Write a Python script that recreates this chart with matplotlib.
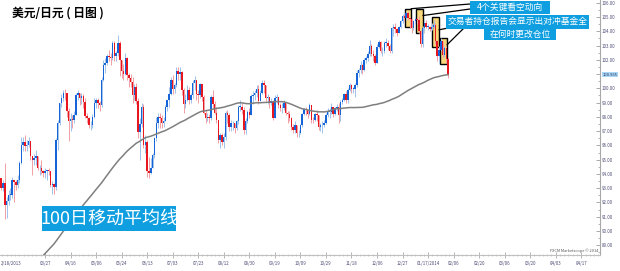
import numpy as np
import pandas as pd
import matplotlib
matplotlib.use("Agg")
import matplotlib.pyplot as plt
from matplotlib.patches import Rectangle
from matplotlib.ticker import FixedLocator, MultipleLocator

plt.rcParams['font.family'] = ['Noto Sans CJK SC', 'DejaVu Sans']

W, H = 620, 271

# daily closes before the first visible bar (Oct 2012 - Feb 20 2013), only used for the 100-day average
pre_close = [78.5, 78.5, 78.7,
             78.3, 78.2, 78.0, 78.4, 78.4, 78.8, 78.8, 79.2, 79.3, 79.3,
             79.9, 79.8, 79.9, 80.2, 79.6, 79.5, 79.8, 79.8, 80.1, 80.4,
             80.2, 80.2, 80.3, 80.0, 79.5, 79.4, 79.4, 79.8, 81.2, 81.3,
             81.3, 81.6, 82.3, 82.5, 82.4, 81.9, 81.9, 82.2, 82.1, 82.4,
             82.1, 81.9, 82.4, 82.4, 82.5, 82.4, 82.4, 82.5, 83.6, 83.9,
             84.3, 84.0, 84.4, 84.3, 84.2, 84.6, 85.5, 85.8, 86.0,
             86.7, 87.1, 87.2, 88.2, 87.8, 87.1, 87.7, 88.8, 89.2,
             89.2, 88.6, 88.4, 90.1, 90.1, 89.6, 88.6, 88.6, 90.2, 90.8,
             90.8, 90.8, 91.1, 91.7, 92.6, 92.4, 93.6, 93.6, 93.6, 92.7,
             93.6, 93.5, 93.2, 92.8, 93.5, 93.6, 93.8, 93.7]

# USD/JPY daily bars, Feb 21 2013 - Feb 3 2014
close = [
    93.05, 93.40, 91.80, 92.10, 92.55, 92.55,
    93.55, 93.45, 93.25, 93.55, 94.75, 96.00, 96.25, 95.95, 96.05, 96.30, 95.25, 94.95, 95.15, 95.25, 94.40, 94.45, 94.20, 94.05, 94.20, 94.25, 94.20,
    93.25, 93.30, 93.10, 96.35, 97.55, 98.95, 99.35, 99.70, 99.65, 98.40, 97.70, 97.85, 97.80, 98.15, 99.55, 99.65, 99.30, 99.45, 99.05, 98.05, 97.95, 97.40,
    97.45, 98.00, 98.95, 99.15, 98.95, 98.80, 100.60, 101.60, 101.80, 102.25, 102.20, 102.15, 103.20, 102.30, 102.50, 103.20, 102.00, 101.20, 101.00, 102.15, 100.95, 100.70, 100.45,
    99.50, 100.10, 99.10, 96.95, 97.50, 98.70, 96.05, 96.25, 94.20, 94.05, 94.45, 95.30, 96.50, 97.60, 98.00, 97.90, 97.60, 97.70, 98.70, 99.15,
    99.60, 100.60, 99.95, 100.20, 101.20, 101.00, 101.15, 99.90, 98.90, 99.20, 99.90, 99.20, 99.50, 100.40, 100.60, 99.60, 99.50, 100.30, 99.40, 98.30, 97.90, 98.00, 97.90,
    99.40, 98.90, 98.30, 97.80, 96.40, 96.70, 96.25, 96.60, 98.25, 98.10, 97.30, 97.55, 97.60, 97.25, 97.70, 98.70, 98.70, 98.50, 97.05, 97.70, 98.35, 98.15,
    99.45, 99.50, 99.70, 99.95, 99.10, 99.65, 100.40, 100.20, 99.30, 99.40, 99.00, 99.10, 97.90, 99.35, 99.40, 98.80, 98.60, 98.60, 98.95, 98.25, 98.20,
    97.95, 97.30, 97.10, 97.45, 96.85, 96.90, 97.40, 98.20, 98.55, 98.45, 98.20, 98.80, 97.80, 97.75, 98.20, 98.10, 97.30, 97.40, 97.40, 97.60, 98.15, 98.35, 98.35,
    98.70, 98.20, 98.60, 98.70, 98.10, 99.05, 99.20, 99.60, 99.20, 99.90, 100.20, 99.95, 99.95, 100.20, 101.10, 101.30, 101.65, 101.25, 102.00, 102.10, 102.40,
    103.00, 102.40, 102.30, 101.80, 102.90, 103.25, 102.60, 102.60, 103.20, 103.20, 103.00, 102.60, 104.20, 104.30, 104.15, 103.90, 104.30, 104.70, 105.10, 104.90, 105.30,
    104.90, 104.85, 104.20, 104.70, 104.85, 104.80, 104.05, 103.10, 104.20, 104.60, 104.30, 104.30, 104.15, 104.30, 104.45, 103.30, 102.30, 102.70, 103.30, 102.35, 102.85, 102.05,
    100.965]

high = [
    93.70, 93.60, 94.77, 92.40, 92.90, 93.00,
    93.80, 93.60, 93.60, 93.90, 94.90, 96.60, 96.60, 96.70, 96.40, 96.60, 96.30, 95.00, 95.40, 95.70, 95.20, 94.60, 95.00, 94.30, 94.40, 94.30, 94.40,
    94.20, 93.50, 93.40, 96.50, 97.80, 99.00, 99.60, 99.90, 99.95, 99.70, 98.60, 98.30, 98.10, 98.40, 99.70, 99.90, 99.60, 99.70, 99.60, 99.30, 98.30, 98.00,
    97.70, 98.20, 99.30, 99.30, 99.30, 99.10, 100.80, 101.98, 102.10, 102.40, 102.70, 102.50, 103.30, 103.30, 102.60, 103.74, 103.30, 102.00, 101.70, 102.50, 102.20, 101.10, 101.00,
    100.80, 100.30, 100.40, 99.30, 97.90, 99.00, 98.90, 96.70, 96.40, 95.20, 95.10, 95.50, 96.60, 98.00, 98.30, 98.30, 98.10, 98.00, 98.80, 99.20,
    100.10, 100.80, 100.90, 100.40, 101.50, 101.50, 101.50, 101.20, 100.00, 99.60, 100.20, 100.10, 99.70, 100.60, 100.87, 100.60, 99.90, 100.40, 100.30, 99.50, 98.50, 98.30, 98.20,
    99.50, 99.90, 99.10, 98.70, 97.80, 96.90, 96.90, 96.90, 98.40, 98.50, 98.30, 97.80, 97.70, 97.60, 97.80, 98.80, 99.20, 99.00, 98.70, 97.90, 98.50, 98.60,
    99.60, 99.80, 99.90, 100.20, 100.20, 99.90, 100.60, 100.60, 100.20, 99.60, 99.30, 99.30, 99.20, 99.50, 99.60, 99.30, 99.00, 99.00, 99.20, 99.00, 98.40,
    98.40, 98.00, 97.50, 97.70, 97.30, 97.10, 97.50, 98.30, 98.60, 98.70, 98.50, 99.00, 98.80, 98.00, 98.30, 98.50, 98.10, 97.60, 97.70, 97.80, 98.30, 98.60, 98.60,
    99.00, 98.70, 98.70, 98.90, 99.00, 99.20, 99.30, 99.70, 99.80, 100.00, 100.40, 100.30, 100.10, 100.40, 101.30, 101.40, 101.90, 101.70, 102.10, 102.30, 102.60,
    103.40, 103.10, 102.70, 102.40, 103.10, 103.40, 103.30, 102.90, 103.30, 103.50, 103.40, 103.10, 104.30, 104.50, 104.60, 104.20, 104.40, 104.80, 105.20, 105.20, 105.40,
    105.44, 105.00, 104.90, 104.80, 105.10, 105.00, 105.10, 104.10, 104.40, 104.80, 104.80, 104.50, 104.40, 104.60, 104.80, 104.60, 103.40, 103.00, 103.50, 103.30, 103.00, 103.00,
    102.20]

low = [
    92.90, 92.80, 90.85, 90.90, 91.80, 92.20,
    92.30, 92.00, 92.90, 93.00, 93.40, 94.70, 95.60, 95.60, 95.60, 95.90, 95.00, 93.90, 94.60, 94.60, 94.30, 93.90, 94.00, 93.80, 93.70, 93.60, 93.90,
    93.10, 92.60, 92.60, 92.90, 95.70, 97.40, 98.70, 99.10, 99.20, 98.00, 96.30, 97.00, 97.20, 97.60, 98.10, 99.20, 98.80, 98.90, 98.60, 97.90, 97.60, 97.20,
    97.10, 97.20, 97.90, 98.60, 98.60, 98.40, 98.70, 100.50, 101.10, 101.60, 101.90, 101.60, 102.00, 101.90, 101.90, 102.30, 100.85, 100.70, 100.60, 100.90, 100.60, 100.10, 100.10,
    99.00, 99.20, 98.90, 96.50, 94.98, 97.30, 95.80, 95.50, 93.80, 93.75, 94.00, 94.40, 95.10, 96.30, 97.20, 97.20, 97.20, 97.30, 97.70, 98.40,
    98.70, 99.50, 99.60, 99.70, 100.10, 100.60, 100.60, 99.50, 98.30, 98.60, 99.10, 98.90, 99.00, 99.30, 99.90, 99.20, 99.00, 99.30, 99.10, 98.20, 97.60, 97.70, 97.60,
    97.80, 98.60, 98.20, 97.60, 96.20, 95.80, 96.00, 95.80, 96.40, 97.60, 97.00, 97.00, 97.10, 96.90, 97.10, 97.50, 98.40, 98.20, 96.80, 96.80, 97.60, 97.90,
    98.20, 98.90, 99.20, 99.40, 98.90, 99.10, 99.60, 99.70, 99.10, 98.90, 98.60, 98.80, 97.80, 97.90, 99.00, 98.60, 98.40, 98.30, 98.50, 98.10, 97.60,
    97.70, 97.10, 96.90, 96.90, 96.60, 96.60, 96.80, 97.30, 98.10, 98.10, 97.90, 98.10, 97.60, 97.60, 97.70, 97.70, 97.10, 97.00, 96.90, 97.30, 97.50, 98.00, 97.90,
    98.20, 98.00, 98.10, 98.40, 97.60, 97.70, 98.90, 99.10, 99.00, 99.00, 99.80, 99.70, 99.70, 99.40, 100.10, 100.80, 101.10, 101.00, 101.20, 101.80, 101.90,
    102.30, 102.30, 101.90, 101.60, 101.80, 102.80, 102.50, 102.30, 102.50, 102.90, 102.70, 102.50, 102.50, 103.70, 103.90, 103.70, 103.90, 104.20, 104.60, 104.70, 104.80,
    104.80, 104.20, 103.90, 104.10, 104.50, 104.50, 103.90, 102.90, 102.90, 104.10, 104.20, 104.10, 104.00, 104.10, 104.20, 103.10, 101.90, 101.80, 102.60, 102.10, 102.20, 101.80,
    100.75]

first_label = "2/18/2013"
tick_labels = ["03/27", "04/16", "05/06", "05/24", "06/13", "07/03", "07/23", "08/12",
               "08/30", "09/19", "10/09", "10/29", "11/18", "12/06", "12/27",
               "01/17/2014", "02/06", "02/20", "03/06", "03/20", "04/03", "04/17"]

# highlighted bar spans (first bar, last bar, low, high)
highlights = [(221.4, 224.7, 104.32, 105.58),
              (227.4, 231.2, 103.90, 105.58),
              (236.2, 240.0, 102.90, 105.02),
              (240.6, 244.4, 101.72, 103.55)]

# ---- derived series
all_close = pd.Series(pre_close + close)
ma100 = all_close.rolling(100).mean().to_numpy()[len(pre_close):]
close = np.array(close)
opens = np.concatenate([[pre_close[-1]], close[:-1]])
high = np.array(high)
low = np.array(low)
n = len(close)
bars = np.arange(n)
last = close[-1]

fig = plt.figure(figsize=(W / 100, H / 100), dpi=100)
ax = fig.add_axes([0, (H - 254.5) / H, 599.5 / W, 254.5 / H])
ax.set_xlim(-0.67, 328.0)
ax.set_ylim(88.355, 106.19)

up = close >= opens
blue, red = "#1565d8", "#e8161e"
ax.vlines(bars[up], np.minimum(low, opens)[up], np.maximum(high, close)[up],
          color="#9ec2ec", lw=0.7, zorder=2)
ax.vlines(bars[~up], np.minimum(low, close)[~up], np.maximum(high, opens)[~up],
          color="#f2a0a4", lw=0.7, zorder=2)
body_lo = np.minimum(opens, close)
body_h = np.maximum(np.abs(close - opens), 0.04)
ax.bar(bars[up], body_h[up], bottom=body_lo[up], width=0.8, color=blue, lw=0, zorder=3)
ax.bar(bars[~up], body_h[~up], bottom=body_lo[~up], width=0.8, color=red, lw=0, zorder=3)

ax.plot(bars, ma100, color="#7f7f7f", lw=1.1, zorder=4)

for b0, b1, lo, hi in highlights:
    ax.add_patch(Rectangle((b0, lo), b1 - b0, hi - lo, facecolor="#f8d77a",
                           edgecolor="black", lw=1.0, zorder=1))

# leader lines from the highlighted spans to the notes
line_kw = dict(arrowprops=dict(arrowstyle="-", color="black", lw=0.9,
                               shrinkA=0, shrinkB=0), annotation_clip=False)
ax.annotate("", xy=(highlights[0][1], highlights[0][3]), xytext=(470 / 599.5, 1 - 4 / 254.5),
            textcoords="axes fraction", **line_kw)
ax.annotate("", xy=(highlights[1][1], 105.1), xytext=(470 / 599.5, 1 - 9 / 254.5),
            textcoords="axes fraction", **line_kw)
ax.annotate("", xy=(highlights[2][1], 104.1), xytext=(468 / 599.5, 1 - 24 / 254.5),
            textcoords="axes fraction", **line_kw)
ax.annotate("", xy=(highlights[3][1], 103.05), xytext=(466 / 599.5, 1 - 26 / 254.5),
            textcoords="axes fraction", **line_kw)

# axes styling
for s in ("top", "left"):
    ax.spines[s].set_visible(False)
ax.spines["right"].set_color("#a8a8a8")
ax.spines["bottom"].set_color("#c0c0c0")
ax.spines["right"].set_linewidth(0.8)
ax.spines["bottom"].set_linewidth(0.8)

# the price tag takes the place of the level label it covers
ax.yaxis.tick_right()
ax.yaxis.set_major_locator(MultipleLocator(1.0))
ax.yaxis.set_minor_locator(MultipleLocator(0.5))
ax.yaxis.set_major_formatter(plt.FuncFormatter(
    lambda v, p: "" if abs(v - last) < 0.5 else f"{v:.2f}"))
ax.tick_params(axis="y", which="major", direction="in", length=3, width=0.5,
               color="#888888", labelsize=3.2, labelcolor="#4d4d78", pad=1.5)
ax.tick_params(axis="y", which="minor", direction="in", length=1.5, width=0.5, color="#999999")

tick_pos = [24 + 14 * i for i in range(len(tick_labels))]
ax.set_xticks(tick_pos)
ax.set_xticklabels(tick_labels)
ax.xaxis.set_minor_locator(FixedLocator(np.arange(-4, 330, 14 / 6)))
ax.tick_params(axis="x", which="major", direction="inout", length=4, width=0.5,
               color="#999999", labelsize=3.2, labelcolor="#4d4d78", pad=2.5)
ax.tick_params(axis="x", which="minor", direction="inout", length=2, width=0.4, color="#aaaaaa")
fig.text(0.5 / W, 1 - 263 / H, first_label, fontsize=3.2, color="#4d4d78",
         ha="left", va="center")

# last price tag
ax.text(1.005, last, f"{last:.3f}", transform=ax.get_yaxis_transform(),
        fontsize=3.0, color="#303060", va="center", ha="left",
        bbox=dict(boxstyle="square,pad=0.15", facecolor="#a9d8f6", edgecolor="none"))

# title
fig.text(12 / W, 1 - 13.5 / H, "美元/日元 ( 日图 )", fontsize=8.5, fontweight="bold",
         color="black", va="center", ha="left")


def px_box(x0, y0, x1, y1, text, size, color="#0f9fe0"):
    fig.patches.append(Rectangle((x0 / W, 1 - y1 / H), (x1 - x0) / W, (y1 - y0) / H,
                                 transform=fig.transFigure, facecolor=color,
                                 edgecolor="none", zorder=5))
    fig.text((x0 + x1) / 2 / W, 1 - (y0 + y1) / 2 / H, text, fontsize=size,
             color="white", ha="center", va="center", zorder=6)


px_box(470, 1, 550, 14, "4个关键看空动向", 6.3)
px_box(446, 15, 589, 28.5, "交易者持仓报告会显示出对冲基金全", 6.3)
px_box(484, 28, 556, 40, "在何时更改仓位", 6.3)
px_box(42, 206, 176, 231, "100日移动平均线", 13)

fig.text(598 / W, 1 - 251 / H, "FXCM Marketscope © 2014", fontsize=2.8,
         color="#555555", ha="right", va="center")

fig.savefig("out.png", dpi=100)
